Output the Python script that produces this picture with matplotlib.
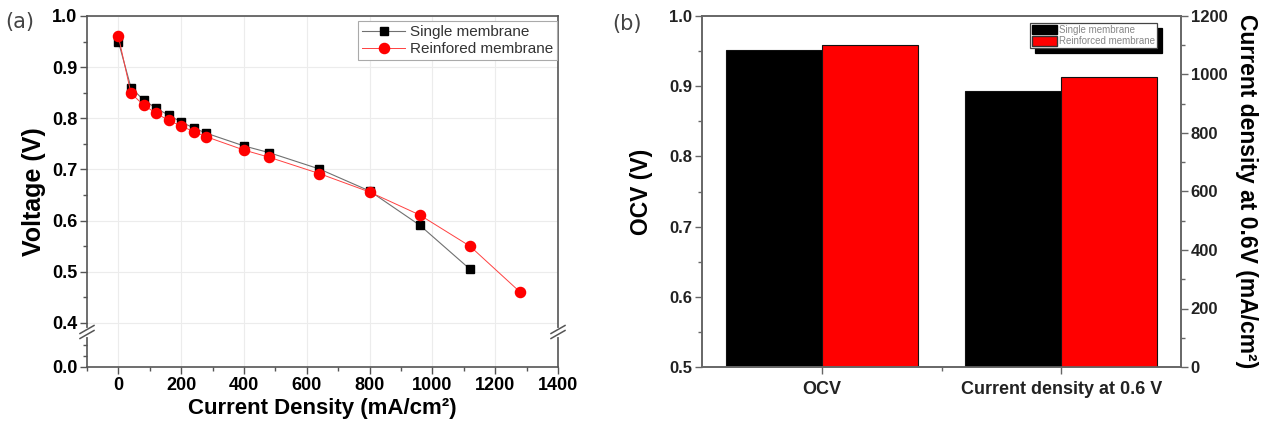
import numpy as np
import matplotlib
matplotlib.use('Agg')
import matplotlib.pyplot as plt
from matplotlib.lines import Line2D
from matplotlib.patches import Patch
from matplotlib.ticker import FixedLocator, MultipleLocator

# ---------------- data ----------------
current_single = [0, 40, 80, 120, 160, 200, 240, 280, 400, 480, 640, 800, 960, 1120]
voltage_single = [0.950, 0.860, 0.836, 0.820, 0.806, 0.793, 0.781, 0.771,
                  0.746, 0.733, 0.701, 0.658, 0.591, 0.505]
current_reinf = [0, 40, 80, 120, 160, 200, 240, 280, 400, 480, 640, 800, 960, 1120, 1280]
voltage_reinf = [0.960, 0.849, 0.826, 0.810, 0.796, 0.785, 0.774, 0.764,
                 0.738, 0.724, 0.692, 0.656, 0.611, 0.550, 0.460]
legend_a = ['Single membrane', 'Reinfored membrane']

bar_categories = ['OCV', 'Current density at 0.6 V']
ocv_values = [0.951, 0.959]          # single, reinforced (V)
cd_values = [945, 992]               # single, reinforced (mA/cm2)
legend_b = ['Single membrane', 'Reinforced membrane']

plt.rcParams['font.family'] = ['Liberation Sans', 'DejaVu Sans']

W, H = 1271, 428
fig = plt.figure(figsize=(W / 100, H / 100), dpi=100)

def box(l, t, r, b):
    return [l / W, 1 - b / H, (r - l) / W, (b - t) / H]

spine_c = '#555555'

# ---------------- panel (a) ----------------
ax = fig.add_axes(box(87, 16, 558, 367))
BRK_LO = 0.314
SC_LO = 0.086 / 0.4

def fwd(v):
    v = np.asarray(v, dtype=float)
    return np.where(v >= 0.4, v, BRK_LO + v * SC_LO)

def inv(t):
    t = np.asarray(t, dtype=float)
    return np.where(t >= 0.4, t, (t - BRK_LO) / SC_LO)

ax.set_yscale('function', functions=(fwd, inv))
ax.set_ylim(0.0, 1.0)
ax.set_xlim(-100, 1400)

ax.plot(current_single, voltage_single, color='#707070', lw=0.8,
        marker='s', ms=6.3, mfc='black', mec='black', zorder=3)
ax.plot(current_reinf, voltage_reinf, color='#ff4040', lw=0.7,
        marker='o', ms=7.3, mfc='#ff0000', mec='#ff0000', zorder=4)

ax.yaxis.set_major_locator(FixedLocator([0.0, 0.4, 0.5, 0.6, 0.7, 0.8, 0.9, 1.0]))
ax.yaxis.set_minor_locator(FixedLocator([0.1, 0.2, 0.45, 0.55, 0.65, 0.75, 0.85, 0.95]))
ax.yaxis.set_major_formatter(matplotlib.ticker.FuncFormatter(lambda v, p: f'{v:.1f}'))
ax.yaxis.set_minor_formatter(matplotlib.ticker.NullFormatter())
ax.xaxis.set_major_locator(MultipleLocator(200))
ax.xaxis.set_minor_locator(MultipleLocator(100))

ax.grid(True, which='major', color='#ececec', lw=0.8)
ax.set_axisbelow(True)
for s in ax.spines.values():
    s.set_color(spine_c)
    s.set_linewidth(1.2)
ax.tick_params(which='major', direction='out', length=5, width=1, color=spine_c,
               labelsize=13, pad=2)
ax.tick_params(which='minor', direction='out', length=3, width=1, color=spine_c)
for lab in ax.get_xticklabels() + ax.get_yticklabels():
    lab.set_fontweight('bold')

ax.set_xlabel('Current Density (mA/cm²)', fontsize=16, fontweight='bold', labelpad=3)
ax.set_ylabel('Voltage (V)', fontsize=18, fontweight='bold', labelpad=4)

# axis break marks
yb = (367 - 332) / 351.0
g = 5 / 351.0
dx = 7 / 471.0
dy = 4 / 351.0
for xs in (0.0, 1.0):
    ax.plot([xs, xs], [yb - g / 2, yb + g / 2], color='white', lw=3,
            transform=ax.transAxes, clip_on=False, zorder=10)
    for off in (-g / 2, g / 2):
        ax.plot([xs - dx, xs + dx], [yb + off - dy, yb + off + dy], color=spine_c,
                lw=1.1, transform=ax.transAxes, clip_on=False, zorder=11)

ha = [Line2D([], [], color='#707070', lw=0.8, marker='s', ms=6.3, mfc='black', mec='black'),
      Line2D([], [], color='#ff4040', lw=0.7, marker='o', ms=7.3, mfc='#ff0000', mec='#ff0000')]
leg = ax.legend(ha, legend_a, loc='upper right', bbox_to_anchor=(0.997, 0.985),
                borderaxespad=0, fontsize=11, fancybox=False, framealpha=1,
                edgecolor='#aaaaaa', handlelength=2.8, handletextpad=0.3,
                borderpad=0.25, labelspacing=0.2)
leg.get_frame().set_linewidth(0.8)
for t in leg.get_texts():
    t.set_color('#333333')

fig.text(5 / W, 1 - 22 / H, '(a)', fontsize=15, color='#444444',
         family='DejaVu Sans', va='center', ha='left')

# ---------------- panel (b) ----------------
axb = fig.add_axes(box(702, 16, 1181, 367))
ax2 = axb.twinx()
axb.set_xlim(0.5, 2.5)
axb.set_ylim(0.5, 1.0)
ax2.set_ylim(0, 1200)

bw = 0.4
axb.bar([1 - bw / 2, 1 + bw / 2], ocv_values, width=bw, bottom=0,
        color=['#000000', '#ff0000'], edgecolor='#111111', linewidth=0.8, zorder=2)
ax2.bar([2 - bw / 2, 2 + bw / 2], cd_values, width=bw,
        color=['#000000', '#ff0000'], edgecolor='#111111', linewidth=0.8, zorder=2)

axb.set_xticks([1, 2])
axb.set_xticklabels(bar_categories)
axb.xaxis.set_minor_locator(FixedLocator([1.5]))
axb.yaxis.set_major_locator(MultipleLocator(0.1))
axb.yaxis.set_minor_locator(MultipleLocator(0.05))
ax2.yaxis.set_major_locator(MultipleLocator(200))
ax2.yaxis.set_minor_locator(MultipleLocator(100))

for a in (axb, ax2):
    for s in a.spines.values():
        s.set_color('#666666')
        s.set_linewidth(1.2)
    a.tick_params(which='major', direction='out', length=5, width=1, color='#666666',
                  labelsize=12, pad=2)
    a.tick_params(which='minor', direction='out', length=3, width=1, color='#666666')
axb.tick_params(axis='x', labelsize=13, pad=5)
for lab in axb.get_xticklabels() + axb.get_yticklabels() + ax2.get_yticklabels():
    lab.set_fontweight('bold')
    lab.set_color('#222222')

axb.set_ylabel('OCV (V)', fontsize=16.5, fontweight='bold', labelpad=12)
ax2.set_ylabel('Current density at 0.6V (mA/cm²)', fontsize=16.5, fontweight='bold',
               rotation=270, labelpad=22)

hb = [Patch(facecolor='#000000', edgecolor='#000000'),
      Patch(facecolor='#ff0000', edgecolor='#333333')]
legb = ax2.legend(hb, legend_b, loc='upper left', bbox_to_anchor=(0.685, 0.98),
                  borderaxespad=0, fontsize=7, fancybox=False, framealpha=1,
                  edgecolor='#444444', handlelength=2.6, handleheight=1.1,
                  handletextpad=0.2, borderpad=0.2, labelspacing=0.15,
                  shadow={'ox': 3.5, 'oy': -3.5, 'facecolor': 'black',
                          'edgecolor': 'black', 'alpha': 1})
legb.get_frame().set_linewidth(0.9)
for t in legb.get_texts():
    t.set_color('#888888')

fig.text(612 / W, 1 - 24 / H, '(b)', fontsize=15, color='#444444',
         family='DejaVu Sans', va='center', ha='left')

fig.savefig('out.png', dpi=100)
